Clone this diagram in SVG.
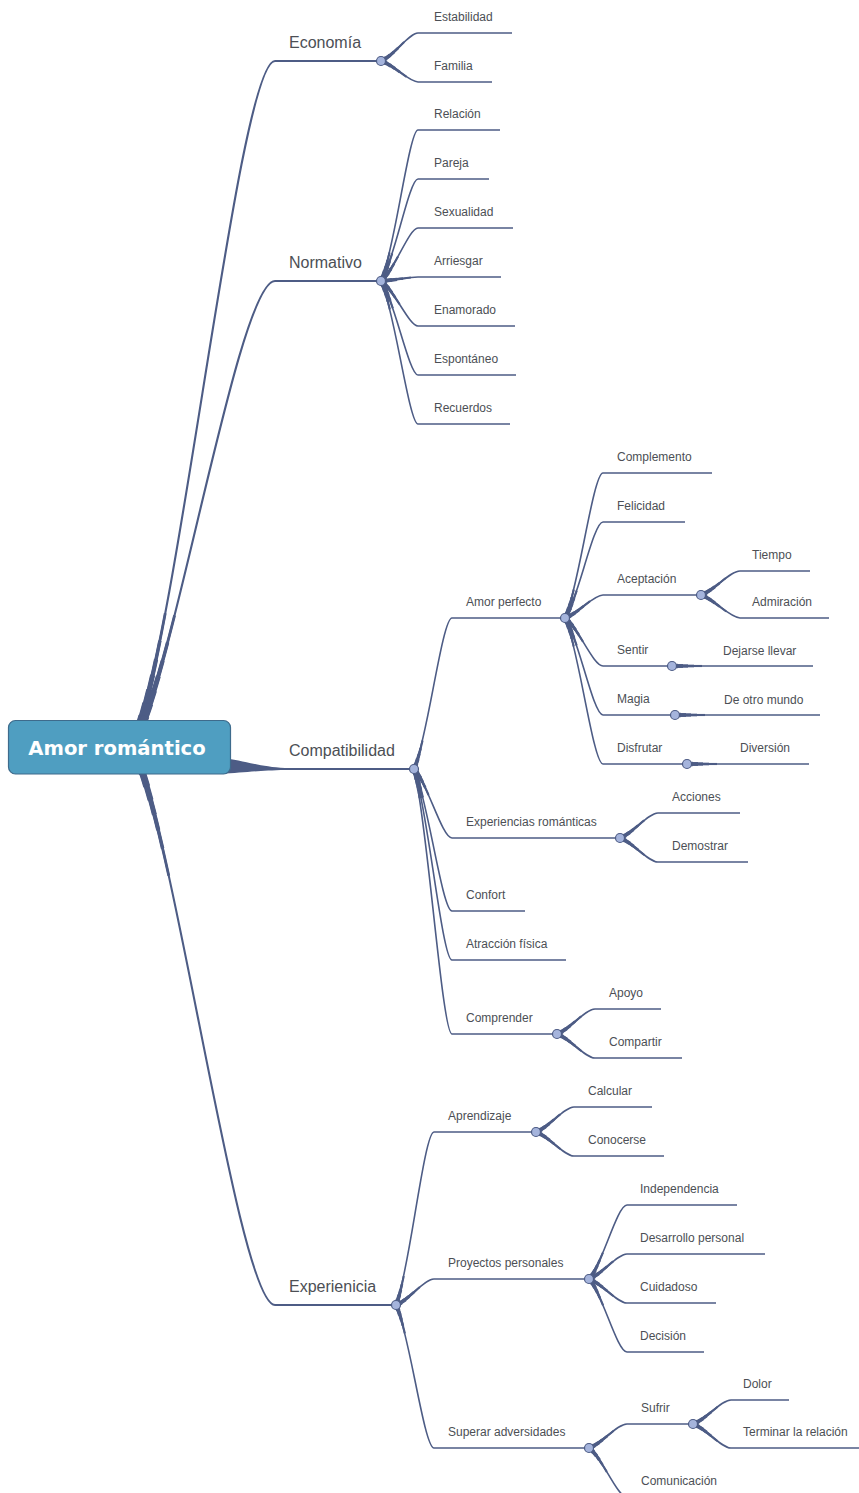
<svg xmlns="http://www.w3.org/2000/svg" xmlns:xlink="http://www.w3.org/1999/xlink" width="859" height="1493" viewBox="0 0 859 1493">
<style>
.l1{font-family:"Liberation Sans",Arial,sans-serif;font-size:16px;fill:#4c4f55}
.l2{font-family:"Liberation Sans",Arial,sans-serif;font-size:12px;fill:#4c4f55}
.root{font-family:"DejaVu Sans",Verdana,sans-serif;font-weight:bold;font-size:19.6px;fill:#ffffff}
.j{fill:#a5b4dc;stroke:#4d5c85;stroke-width:1.2}
.base{stroke-width:1.6}
.t1{stroke-width:4.4;stroke-dasharray:6 9999}
.t2{stroke-width:3.8;stroke-dasharray:11 9999}
.t3{stroke-width:3.2;stroke-dasharray:16 9999}
.t4{stroke-width:2.6;stroke-dasharray:22 9999}
.t5{stroke-width:2.1;stroke-dasharray:30 9999}
.m0{stroke-width:2.1}
.m1{stroke-width:8;stroke-dasharray:15 9999}
.m2{stroke-width:7;stroke-dasharray:28 9999}
.m3{stroke-width:6;stroke-dasharray:42 9999}
.m4{stroke-width:5;stroke-dasharray:57 9999}
.m5{stroke-width:4.2;stroke-dasharray:73 9999}
.m6{stroke-width:3.5;stroke-dasharray:92 9999}
.m7{stroke-width:2.8;stroke-dasharray:120 9999}
.wedge{fill:#4d5c85;stroke:none}
</style>
<defs>
<g id="mainb">
<path d="M138,730 C182,600 240,61 275,61 L381,61"/>
<path d="M140,730 C180,639 240,281 275,281 L381,281"/>
<path d="M138,760 C180,870 240,1305 275,1305 L396,1305"/>
</g>
<g id="subb">
<path d="M381,61 C394,56 409,33 418,33 L512,33"/>
<path d="M381,61 C394,64.8 409,82 418,82 L492,82"/>
<path d="M381,281 C394,253.8 409,130 418,130 L500,130"/>
<path d="M381,281 C394,262.6 409,179 418,179 L489,179"/>
<path d="M381,281 C394,271.5 409,228 418,228 L513,228"/>
<path d="M381,281 C394,280.3 409,277 418,277 L501,277"/>
<path d="M381,281 C394,289.1 409,326 418,326 L515,326"/>
<path d="M381,281 C394,297.9 409,375 418,375 L516,375"/>
<path d="M381,281 C394,306.7 409,424 418,424 L510,424"/>
<path d="M414,769 C427,741.8 442,618 452,618 L565,618"/>
<path d="M414,769 C427,781.4 442,838 452,838 L620,838"/>
<path d="M414,769 C427,794.6 442,911 452,911 L525,911"/>
<path d="M414,769 C427,803.4 442,960 452,960 L566,960"/>
<path d="M414,769 C427,816.7 442,1034 452,1034 L557,1034"/>
<path d="M565,618 C578,591.9 593,473 603,473 L712,473"/>
<path d="M565,618 C578,600.7 593,522 603,522 L685,522"/>
<path d="M565,618 C578,613.9 593,595 603,595 L701,595"/>
<path d="M565,618 C578,626.6 593,666 603,666 L672,666"/>
<path d="M565,618 C578,635.5 593,715 603,715 L675,715"/>
<path d="M565,618 C578,644.3 593,764 603,764 L687,764"/>
<path d="M701,595 C714,590.7 730,571 740,571 L810,571"/>
<path d="M701,595 C714,599.1 730,618 740,618 L829,618"/>
<path d="M672,666 L813,666"/>
<path d="M675,715 L820,715"/>
<path d="M687,764 L809,764"/>
<path d="M620,838 C633,833.5 648,813 658,813 L740,813"/>
<path d="M620,838 C633,842.3 648,862 658,862 L748,862"/>
<path d="M557,1034 C570,1029.5 585,1009 595,1009 L661,1009"/>
<path d="M557,1034 C570,1038.3 585,1058 595,1058 L682,1058"/>
<path d="M396,1305 C409,1273.9 424,1132 434,1132 L536,1132"/>
<path d="M396,1305 C409,1300.3 424,1279 434,1279 L589,1279"/>
<path d="M396,1305 C409,1330.7 424,1448 434,1448 L589,1448"/>
<path d="M536,1132 C549,1127.5 564,1107 574,1107 L652,1107"/>
<path d="M536,1132 C549,1136.3 564,1156 574,1156 L664,1156"/>
<path d="M589,1279 C602,1265.7 617,1205 627,1205 L737,1205"/>
<path d="M589,1279 C602,1274.5 617,1254 627,1254 L765,1254"/>
<path d="M589,1279 C602,1283.3 617,1303 627,1303 L716,1303"/>
<path d="M589,1279 C602,1292.1 617,1352 627,1352 L704,1352"/>
<path d="M589,1448 C602,1443.7 617,1424 627,1424 L693,1424"/>
<path d="M589,1448 C602,1456.8 617,1497 627,1497 L720,1497"/>
<path d="M693,1424 C706,1419.7 721,1400 731,1400 L789,1400"/>
<path d="M693,1424 C706,1428.3 721,1448 731,1448 L859,1448"/>
</g>
</defs>
<rect width="859" height="1493" fill="#ffffff"/>
<g id="connectors" fill="none" stroke="#4d5c85">
<use href="#mainb" xlink:href="#mainb" class="m0"/>
<use href="#mainb" xlink:href="#mainb" class="m7"/>
<use href="#mainb" xlink:href="#mainb" class="m6"/>
<use href="#mainb" xlink:href="#mainb" class="m5"/>
<use href="#mainb" xlink:href="#mainb" class="m4"/>
<use href="#mainb" xlink:href="#mainb" class="m3"/>
<use href="#mainb" xlink:href="#mainb" class="m2"/>
<use href="#mainb" xlink:href="#mainb" class="m1"/>
<path class="m0" d="M220,765 C240,766 255,769 275,769 L414,769"/>
<path class="wedge" d="M220,758 C245,760 258,767 285,768 L285,770 C258,770.5 245,772.5 220,774 Z"/>
<use href="#subb" xlink:href="#subb" class="base"/>
<use href="#subb" xlink:href="#subb" class="t5"/>
<use href="#subb" xlink:href="#subb" class="t4"/>
<use href="#subb" xlink:href="#subb" class="t3"/>
<use href="#subb" xlink:href="#subb" class="t2"/>
<use href="#subb" xlink:href="#subb" class="t1"/>
</g>
<g id="node-root">
<rect x="8.5" y="720.5" width="222" height="53.5" rx="7" fill="#4f9ec1" stroke="#3e6b8c" stroke-width="1.2"/>
<text class="root" x="117" y="755" text-anchor="middle">Amor romántico</text>
</g>
<g id="node-economia"><text class="l1" x="289" y="48">Economía</text><circle class="j" cx="381" cy="61" r="4.5"/></g>
<g id="node-estabilidad"><text class="l2" x="434" y="21">Estabilidad</text></g>
<g id="node-familia"><text class="l2" x="434" y="70">Familia</text></g>
<g id="node-normativo"><text class="l1" x="289" y="268">Normativo</text><circle class="j" cx="381" cy="281" r="4.5"/></g>
<g id="node-relacion"><text class="l2" x="434" y="118">Relación</text></g>
<g id="node-pareja"><text class="l2" x="434" y="167">Pareja</text></g>
<g id="node-sexualidad"><text class="l2" x="434" y="216">Sexualidad</text></g>
<g id="node-arriesgar"><text class="l2" x="434" y="265">Arriesgar</text></g>
<g id="node-enamorado"><text class="l2" x="434" y="314">Enamorado</text></g>
<g id="node-espontaneo"><text class="l2" x="434" y="363">Espontáneo</text></g>
<g id="node-recuerdos"><text class="l2" x="434" y="412">Recuerdos</text></g>
<g id="node-compatibilidad"><text class="l1" x="289" y="756">Compatibilidad</text><circle class="j" cx="414" cy="769" r="4.5"/></g>
<g id="node-amor-perfecto"><text class="l2" x="466" y="606">Amor perfecto</text><circle class="j" cx="565" cy="618" r="4.5"/></g>
<g id="node-complemento"><text class="l2" x="617" y="461">Complemento</text></g>
<g id="node-felicidad"><text class="l2" x="617" y="510">Felicidad</text></g>
<g id="node-aceptacion"><text class="l2" x="617" y="583">Aceptación</text><circle class="j" cx="701" cy="595" r="4.5"/></g>
<g id="node-tiempo"><text class="l2" x="752" y="559">Tiempo</text></g>
<g id="node-admiracion"><text class="l2" x="752" y="606">Admiración</text></g>
<g id="node-sentir"><text class="l2" x="617" y="654">Sentir</text><circle class="j" cx="672" cy="666" r="4.5"/></g>
<g id="node-dejarse"><text class="l2" x="723" y="655">Dejarse llevar</text></g>
<g id="node-magia"><text class="l2" x="617" y="703">Magia</text><circle class="j" cx="675" cy="715" r="4.5"/></g>
<g id="node-otro-mundo"><text class="l2" x="724" y="704">De otro mundo</text></g>
<g id="node-disfrutar"><text class="l2" x="617" y="752">Disfrutar</text><circle class="j" cx="687" cy="764" r="4.5"/></g>
<g id="node-diversion"><text class="l2" x="740" y="752">Diversión</text></g>
<g id="node-experiencias"><text class="l2" x="466" y="826">Experiencias románticas</text><circle class="j" cx="620" cy="838" r="4.5"/></g>
<g id="node-acciones"><text class="l2" x="672" y="801">Acciones</text></g>
<g id="node-demostrar"><text class="l2" x="672" y="850">Demostrar</text></g>
<g id="node-confort"><text class="l2" x="466" y="899">Confort</text></g>
<g id="node-atraccion"><text class="l2" x="466" y="948">Atracción física</text></g>
<g id="node-comprender"><text class="l2" x="466" y="1022">Comprender</text><circle class="j" cx="557" cy="1034" r="4.5"/></g>
<g id="node-apoyo"><text class="l2" x="609" y="997">Apoyo</text></g>
<g id="node-compartir"><text class="l2" x="609" y="1046">Compartir</text></g>
<g id="node-experienicia"><text class="l1" x="289" y="1292">Experienicia</text><circle class="j" cx="396" cy="1305" r="4.5"/></g>
<g id="node-aprendizaje"><text class="l2" x="448" y="1120">Aprendizaje</text><circle class="j" cx="536" cy="1132" r="4.5"/></g>
<g id="node-calcular"><text class="l2" x="588" y="1095">Calcular</text></g>
<g id="node-conocerse"><text class="l2" x="588" y="1144">Conocerse</text></g>
<g id="node-proyectos"><text class="l2" x="448" y="1267">Proyectos personales</text><circle class="j" cx="589" cy="1279" r="4.5"/></g>
<g id="node-independencia"><text class="l2" x="640" y="1193">Independencia</text></g>
<g id="node-desarrollo"><text class="l2" x="640" y="1242">Desarrollo personal</text></g>
<g id="node-cuidadoso"><text class="l2" x="640" y="1291">Cuidadoso</text></g>
<g id="node-decision"><text class="l2" x="640" y="1340">Decisión</text></g>
<g id="node-superar"><text class="l2" x="448" y="1436">Superar adversidades</text><circle class="j" cx="589" cy="1448" r="4.5"/></g>
<g id="node-sufrir"><text class="l2" x="641" y="1412">Sufrir</text><circle class="j" cx="693" cy="1424" r="4.5"/></g>
<g id="node-dolor"><text class="l2" x="743" y="1388">Dolor</text></g>
<g id="node-terminar"><text class="l2" x="743" y="1436">Terminar la relación</text></g>
<g id="node-comunicacion"><text class="l2" x="641" y="1485">Comunicación</text></g>
</svg>
